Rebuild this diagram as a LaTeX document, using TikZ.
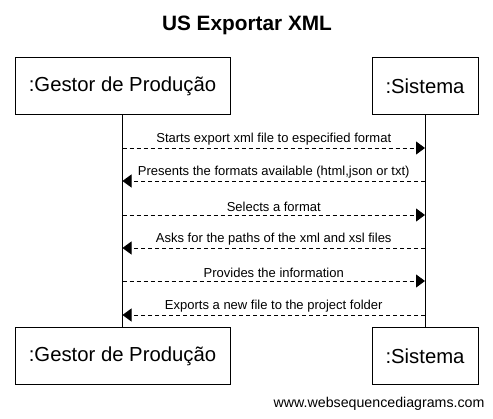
\documentclass[tikz,border=0pt]{standalone}
\usepackage{fontspec}
\setmainfont{Liberation Sans}
\usetikzlibrary{arrows.meta}
\begin{document}
\begin{tikzpicture}[
    x=1pt, y=-1pt,
    actor/.style={
        rectangle,
        minimum width=215pt,
        minimum height=57pt,
        draw=black,
        line width=1pt,
        font=\fontsize{20.3}{24}\selectfont,
        align=center
    },
    sysactor/.style={
        actor,
        minimum width=106pt
    },
    title/.style={
        font=\fontsize{20.8}{24}\selectfont\bfseries
    },
    lifeline/.style={draw=black, line width=1pt},
    msg/.style={
        draw=black,
        line width=0.9pt,
        dash pattern=on 4pt off 3pt,
        -{Triangle[length=9pt,width=13pt]}
    },
    msglabel/.style={
        midway,
        above,
        inner sep=2.5pt,
        font=\fontsize{13}{15}\selectfont
    },
    credit/.style={font=\fontsize{14.2}{16}\selectfont, anchor=east}
]
\useasboundingbox (0,0) rectangle (493,419);

% Title
\node[title] (ttl) at (247,25) {US Exportar XML};

% Actors
\node[actor] (gtop) at (122.5,86.5) {:Gestor de Produção};
\node[sysactor] (stop) at (425,86.5) {:Sistema};
\node[actor] (gbot) at (122.5,356.5) {:Gestor de Produção};
\node[sysactor] (sbot) at (425,356.5) {:Sistema};

% Lifelines
\draw[lifeline] (gtop.south) -- (gbot.north);
\draw[lifeline] (stop.south) -- (sbot.north);

% Points on the lifelines
\coordinate (g1) at (122.5,148);
\coordinate (s1) at (425,148);
\coordinate (g2) at (122.5,181);
\coordinate (s2) at (425,181);
\coordinate (g3) at (122.5,215);
\coordinate (s3) at (425,215);
\coordinate (g4) at (122.5,248);
\coordinate (s4) at (425,248);
\coordinate (g5) at (122.5,281);
\coordinate (s5) at (425,281);
\coordinate (g6) at (122.5,315);
\coordinate (s6) at (425,315);

% Messages
\draw[msg] (g1) -- node[msglabel] {Starts export xml file to especified format} (s1);
\draw[msg] (s2) -- node[msglabel] {Presents the formats available (html,json or txt)} (g2);
\draw[msg] (g3) -- node[msglabel] {Selects a format} (s3);
\draw[msg] (s4) -- node[msglabel] {Asks for the paths of the xml and xsl files} (g4);
\draw[msg] (g5) -- node[msglabel] {Provides the information} (s5);
\draw[msg] (s6) -- node[msglabel] {Exports a new file to the project folder} (g6);

% Credit
\node[credit] (www) at (488,404) {www.websequencediagrams.com};

\end{tikzpicture}
\end{document}
